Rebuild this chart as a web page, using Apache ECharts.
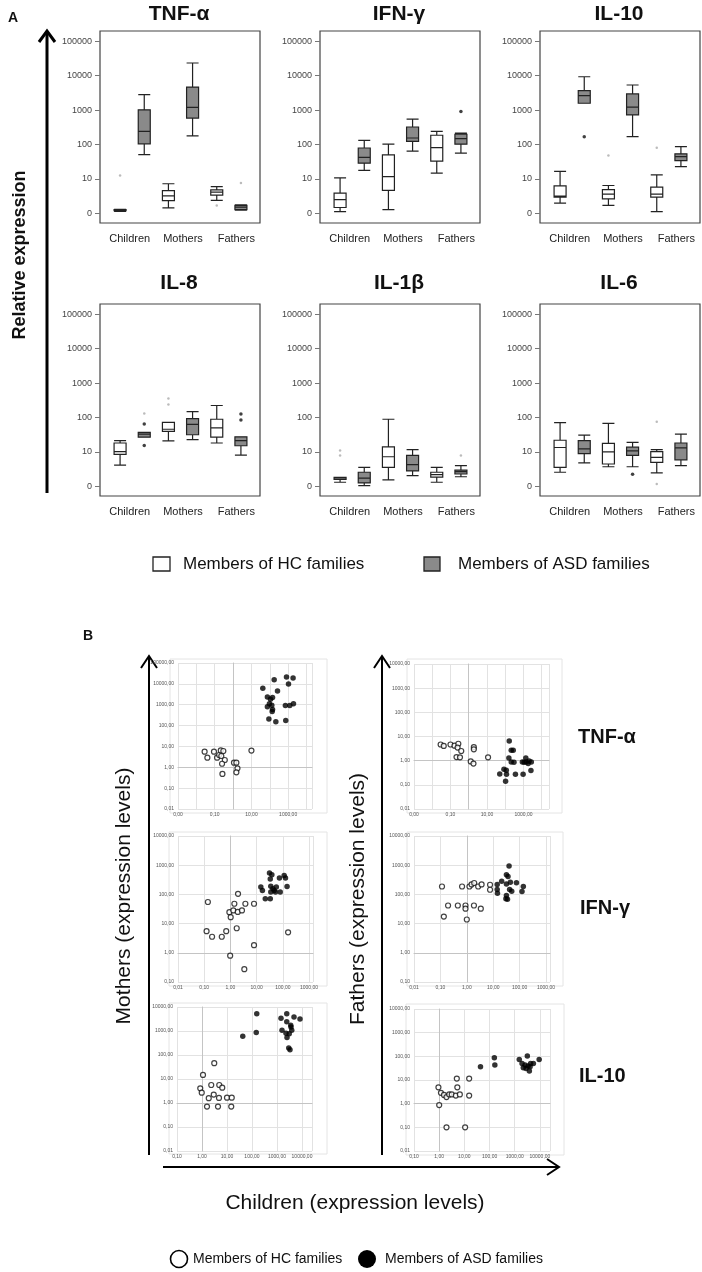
<!DOCTYPE html>
<html lang="en">
<head>
<meta charset="UTF-8">
<title>Cytokine expression in ASD and HC families</title>
<script src="https://cdn.jsdelivr.net/npm/echarts@6/dist/echarts.min.js"></script>
<style>
  html, body { margin: 0; padding: 0; background: #fff; }
  #main { width: 702px; height: 1272px; }
</style>
</head>
<body>
<div id="main"></div>
<script>
// ---- panel A: box plots, values are log10(relative expression) ----
const boxCats = ['Children HC', 'Children ASD', 'Mothers HC', 'Mothers ASD', 'Fathers HC', 'Fathers ASD'];
const groupLabels = ['Children', 'Mothers', 'Fathers'];
const boxTitles = ['TNF-α', 'IFN-γ', 'IL-10', 'IL-8', 'IL-1β', 'IL-6'];
const logTicks = [0, 1, 2, 3, 4, 5];

// [min, Q1, median, Q3, max]
const tnfBox = [[0.06, 0.08, 0.10, 0.11, 0.12], [1.71, 2.02, 2.38, 3.01, 3.45], [0.16, 0.37, 0.51, 0.66, 0.86],
  [2.25, 2.77, 3.08, 3.67, 4.37], [0.38, 0.53, 0.62, 0.68, 0.78], [0.09, 0.11, 0.18, 0.23, 0.25]];
const ifnBox = [[0.05, 0.17, 0.40, 0.59, 1.03], [1.25, 1.46, 1.63, 1.90, 2.12], [0.11, 0.67, 1.07, 1.70, 2.01],
  [1.81, 2.09, 2.19, 2.51, 2.74], [1.17, 1.52, 1.91, 2.27, 2.38], [1.75, 2.01, 2.17, 2.30, 2.33]];
const il10Box = [[0.30, 0.47, 0.50, 0.80, 1.22], [3.20, 3.20, 3.42, 3.57, 3.97], [0.23, 0.42, 0.56, 0.69, 0.81],
  [2.23, 2.86, 3.09, 3.47, 3.73], [0.05, 0.47, 0.56, 0.76, 1.12], [1.36, 1.53, 1.65, 1.73, 1.94]];
const il8Box = [[0.62, 0.93, 1.01, 1.26, 1.33], [1.43, 1.43, 1.52, 1.57, 1.57], [1.32, 1.60, 1.66, 1.86, 1.86],
  [1.36, 1.50, 1.80, 1.97, 2.17], [1.26, 1.43, 1.70, 1.95, 2.35], [0.91, 1.18, 1.33, 1.44, 1.44]];
const il1bBox = [[0.12, 0.20, 0.22, 0.26, 0.26], [0.02, 0.10, 0.24, 0.41, 0.55], [0.19, 0.55, 0.86, 1.15, 1.95],
  [0.31, 0.45, 0.63, 0.90, 1.07], [0.12, 0.27, 0.34, 0.41, 0.55], [0.28, 0.36, 0.43, 0.47, 0.60]];
const il6Box = [[0.41, 0.55, 1.13, 1.34, 1.85], [0.68, 0.95, 1.09, 1.33, 1.49], [0.57, 0.65, 1.00, 1.25, 1.83],
  [0.57, 0.90, 1.03, 1.14, 1.28], [0.39, 0.70, 0.84, 1.01, 1.07], [0.60, 0.77, 1.12, 1.26, 1.52]];

// outliers (grey = mild, black = extreme)
const tnfGrayOut = [['Children HC', 1.10], ['Fathers HC', 0.23], ['Fathers ASD', 0.88]];
const tnfBlackOut = [];
const ifnGrayOut = [];
const ifnBlackOut = [['Fathers ASD', 2.96]];
const il10GrayOut = [['Mothers HC', 1.68], ['Fathers HC', 1.91]];
const il10BlackOut = [['Children ASD', 2.23]];
const il8GrayOut = [['Children ASD', 2.12], ['Mothers HC', 2.55], ['Mothers HC', 2.38]];
const il8BlackOut = [['Children ASD', 1.81], ['Children ASD', 1.19], ['Fathers ASD', 2.10], ['Fathers ASD', 1.93]];
const il1bGrayOut = [['Children HC', 1.04], ['Children HC', 0.90], ['Fathers ASD', 0.90]];
const il1bBlackOut = [];
const il6GrayOut = [['Fathers HC', 1.88], ['Fathers HC', 0.07]];
const il6BlackOut = [['Mothers ASD', 0.35]];

// ---- panel B: scatter, [log10 child level, log10 parent level] ----
const tnfMotherHC = [[-1.55, 0.75], [-1.40, 0.46], [-1.04, 0.75], [-0.87, 0.46], [-0.76, 0.59], [-0.67, 0.81], [-0.53, 0.78],
  [-0.64, 0.54], [-0.45, 0.35], [-0.60, 0.17], [-0.58, -0.32], [0.05, 0.22], [0.18, 0.22], [0.24, -0.05], [0.18, -0.24], [1.00, 0.80]];
const tnfMotherASD = [[2.91, 4.33], [3.27, 4.28], [2.24, 4.20], [3.02, 3.99], [1.62, 3.79], [2.42, 3.66], [1.87, 3.37], [2.15, 3.34],
  [2.04, 3.26], [1.98, 3.05], [1.87, 2.90], [2.11, 2.97], [2.15, 2.77], [2.13, 2.67], [2.85, 2.96], [3.09, 2.96], [3.29, 3.05],
  [1.95, 2.31], [2.33, 2.18], [2.87, 2.24]];
const tnfFatherHC = [[-1.54, 0.67], [-1.37, 0.61], [-1.00, 0.67], [-0.78, 0.62], [-0.57, 0.70], [-0.61, 0.54], [-0.41, 0.40],
  [-0.67, 0.15], [-0.48, 0.14], [0.28, 0.56], [0.28, 0.47], [0.11, -0.03], [0.26, -0.12], [1.06, 0.14]];
const tnfFatherASD = [[2.22, 0.81], [2.33, 0.43], [2.44, 0.43], [2.20, 0.11], [2.33, -0.06], [2.48, -0.07], [1.93, -0.36],
  [2.06, -0.40], [1.70, -0.55], [2.07, -0.56], [2.56, -0.56], [2.02, -0.85], [2.98, -0.56], [2.94, -0.06], [3.13, 0.11],
  [3.15, -0.06], [3.26, -0.12], [3.43, -0.06], [3.41, -0.41], [3.04, -0.07], [3.31, -0.01]];
const ifnMotherHC = [[-0.86, 1.74], [-0.91, 0.74], [-0.70, 0.55], [-0.33, 0.55], [-0.16, 0.74], [-0.04, 1.39], [0.01, 1.22],
  [0.11, 1.45], [0.15, 1.68], [0.29, 2.02], [0.28, 1.40], [0.44, 1.45], [0.57, 1.68], [0.90, 1.68], [0.24, 0.84], [0.90, 0.26],
  [-0.01, -0.10], [0.53, -0.56], [2.20, 0.70]];
const ifnMotherASD = [[1.49, 2.73], [1.58, 2.67], [1.52, 2.53], [1.16, 2.25], [1.22, 2.13], [1.33, 1.85], [1.52, 1.85], [1.54, 2.28],
  [1.62, 2.19], [1.67, 2.13], [1.75, 2.25], [1.72, 2.08], [1.54, 2.08], [1.90, 2.08], [1.87, 2.56], [2.05, 2.65], [2.10, 2.56], [2.16, 2.27]];
const ifnFatherHC = [[-0.94, 2.27], [-0.87, 1.24], [-0.71, 1.62], [-0.34, 1.62], [-0.18, 2.27], [-0.05, 1.62], [-0.05, 1.51],
  [0.00, 1.14], [0.10, 2.27], [0.18, 2.34], [0.28, 2.39], [0.43, 2.27], [0.56, 2.34], [0.27, 1.62], [0.53, 1.51], [0.88, 2.33], [0.88, 2.16]];
const ifnFatherASD = [[1.60, 2.97], [1.50, 2.67], [1.56, 2.61], [1.32, 2.45], [1.15, 2.34], [1.15, 2.17], [1.16, 2.04], [1.50, 2.36],
  [1.65, 2.42], [1.88, 2.40], [2.14, 2.27], [2.09, 2.10], [1.70, 2.11], [1.62, 2.17], [1.50, 1.96], [1.54, 1.83], [1.48, 1.85]];
const il10MotherHC = [[0.04, 1.17], [0.49, 1.66], [-0.07, 0.61], [-0.01, 0.43], [0.37, 0.75], [0.69, 0.75], [0.81, 0.64], [0.47, 0.35],
  [0.27, 0.20], [0.68, 0.21], [1.00, 0.22], [1.19, 0.22], [0.20, -0.15], [0.64, -0.15], [1.17, -0.15]];
const il10MotherASD = [[1.63, 2.78], [2.19, 3.72], [2.17, 2.94], [3.16, 3.53], [3.39, 3.72], [3.39, 3.39], [3.68, 3.58], [3.92, 3.50],
  [3.20, 3.03], [3.36, 2.91], [3.56, 3.17], [3.59, 3.03], [3.49, 2.89], [3.40, 2.73], [3.47, 2.29], [3.52, 2.22], [3.55, 3.24]];
const il10FatherHC = [[-0.03, 0.69], [0.07, 0.46], [0.19, 0.37], [0.29, 0.28], [0.40, 0.39], [0.50, 0.39], [0.66, 0.34], [0.82, 0.39],
  [0.72, 0.69], [0.70, 1.06], [1.19, 1.06], [1.19, 0.34], [0.00, -0.06], [0.29, -1.00], [1.03, -1.00]];
const il10FatherASD = [[1.64, 1.56], [2.19, 1.94], [2.21, 1.63], [3.18, 1.87], [3.50, 2.01], [3.97, 1.87], [3.29, 1.70], [3.41, 1.63],
  [3.53, 1.59], [3.63, 1.70], [3.74, 1.70], [3.45, 1.49], [3.58, 1.38], [3.34, 1.52], [3.61, 1.56]];

const FONT = 'Liberation Sans, Arial, sans-serif';
const GRAY_BOX = '#8a8a8a';

const boxSets = [
  [tnfBox, tnfGrayOut, tnfBlackOut], [ifnBox, ifnGrayOut, ifnBlackOut], [il10Box, il10GrayOut, il10BlackOut],
  [il8Box, il8GrayOut, il8BlackOut], [il1bBox, il1bGrayOut, il1bBlackOut], [il6Box, il6GrayOut, il6BlackOut]
];
const colLeft = [100, 320, 540];
const rowTop = [31, 304];
const titleY = [14, 283];

const scatterSets = [
  [tnfMotherHC, tnfMotherASD], [tnfFatherHC, tnfFatherASD],
  [ifnMotherHC, ifnMotherASD], [ifnFatherHC, ifnFatherASD],
  [il10MotherHC, il10MotherASD], [il10FatherHC, il10FatherASD]
];
// frame [l,t,w,h], plot area [l,t,w,h], axis extents, x labels shown
const bLayout = [
  { frame: [170, 659, 157, 154], plot: [178, 663, 134, 146], x: [-3, 4.3], y: [-2, 5], xl: [-3, -1, 1, 3] },
  { frame: [407, 659, 155, 154], plot: [414, 664, 135, 145], x: [-3, 4.4], y: [-2, 4], xl: [-3, -1, 1, 3] },
  { frame: [169, 832, 158, 154], plot: [178, 836, 135, 146], x: [-2, 3.15], y: [-1, 4], xl: [-2, -1, 0, 1, 2, 3] },
  { frame: [407, 832, 156, 154], plot: [414, 836, 136, 146], x: [-2, 3.15], y: [-1, 4], xl: [-2, -1, 0, 1, 2, 3] },
  { frame: [169, 1003, 158, 151], plot: [177, 1007, 135, 144], x: [-1, 4.4], y: [-2, 4], xl: [-1, 0, 1, 2, 3, 4] },
  { frame: [406, 1004, 158, 151], plot: [414, 1009, 136, 142], x: [-1, 4.4], y: [-2, 4], xl: [-1, 0, 1, 2, 3, 4] }
];

function intRange(a, b) { const r = []; for (let v = a; v <= b; v++) r.push(v); return r; }
function fmtA(v) { return v === 0 ? '0' : String(Math.round(Math.pow(10, v))); }
function fmtB(v) { return Math.pow(10, v).toFixed(2).replace('.', ','); }

const grid = [], xAxis = [], yAxis = [], series = [], graphic = [];

// panel A
boxSets.forEach((set, k) => {
  const L = colLeft[k % 3], T = rowTop[Math.floor(k / 3)];
  const gi = grid.length;
  // frame + group labels
  grid.push({ left: L, top: T, width: 160, height: 192, show: true, borderColor: '#444', borderWidth: 1.2,
    backgroundColor: 'transparent', outerBoundsMode: 'none' });
  xAxis.push({ gridIndex: gi, type: 'category', data: groupLabels, axisLine: { show: false }, axisTick: { show: false },
    axisLabel: { interval: 0, fontSize: 11, color: '#222', fontFamily: FONT, margin: 10, padding: [0, 0, 0, 6] } });
  yAxis.push({ gridIndex: gi, type: 'value', show: false });
  // data
  const di = grid.length;
  grid.push({ left: L + 8, top: T, width: 145, height: 192, outerBoundsMode: 'none' });
  xAxis.push({ gridIndex: di, type: 'category', data: boxCats, show: false });
  yAxis.push({ gridIndex: di, type: 'value', min: -0.28, max: 5.3, offset: 8,
    axisLine: { show: false }, splitLine: { show: false },
    axisTick: { show: true, length: 5, customValues: logTicks, lineStyle: { color: '#777' } },
    axisLabel: { customValues: logTicks, formatter: fmtA, fontSize: 9, color: '#444', fontFamily: FONT, margin: 8 } });
  series.push({ type: 'boxplot', xAxisIndex: di, yAxisIndex: di, boxWidth: [12, 12],
    itemStyle: { borderColor: '#222', borderWidth: 1.2 }, emphasis: { disabled: true },
    data: set[0].map((v, i) => ({ value: v, itemStyle: { color: i % 2 ? GRAY_BOX : '#fff' } })) });
  series.push({ type: 'scatter', xAxisIndex: di, yAxisIndex: di, data: set[1], symbolSize: 2.5,
    itemStyle: { color: '#aaa' }, silent: true });
  series.push({ type: 'scatter', xAxisIndex: di, yAxisIndex: di, data: set[2], symbolSize: 3.5,
    itemStyle: { color: '#111' }, silent: true });
  graphic.push({ type: 'text', x: L + 79, y: titleY[Math.floor(k / 3)],
    style: { text: boxTitles[k], fontSize: 21, fontWeight: 'bold', fontFamily: FONT, fill: '#111', align: 'center', verticalAlign: 'middle' } });
});

// panel B
scatterSets.forEach((set, j) => {
  const lay = bLayout[j];
  const fi = grid.length;
  grid.push({ left: lay.frame[0], top: lay.frame[1], width: lay.frame[2], height: lay.frame[3], show: true,
    borderColor: '#e4e4e4', borderWidth: 1, backgroundColor: 'transparent', outerBoundsMode: 'none' });
  xAxis.push({ gridIndex: fi, type: 'value', show: false });
  yAxis.push({ gridIndex: fi, type: 'value', show: false });
  const pi = grid.length;
  grid.push({ left: lay.plot[0], top: lay.plot[1], width: lay.plot[2], height: lay.plot[3], outerBoundsMode: 'none' });
  xAxis.push({ gridIndex: pi, type: 'value', min: lay.x[0], max: lay.x[1], interval: 1,
    axisLine: { onZero: true, lineStyle: { color: '#c4c4c4', width: 1 } }, axisTick: { show: false },
    splitLine: { show: true, lineStyle: { color: '#e2e2e2', width: 1 } },
    axisLabel: { customValues: lay.xl, formatter: fmtB, fontSize: 5, color: '#555', fontFamily: FONT, margin: 3 } });
  yAxis.push({ gridIndex: pi, type: 'value', min: lay.y[0], max: lay.y[1], interval: 1,
    axisLine: { onZero: true, lineStyle: { color: '#c4c4c4', width: 1 } }, axisTick: { show: false },
    splitLine: { show: true, lineStyle: { color: '#e2e2e2', width: 1 } },
    axisLabel: { customValues: intRange(lay.y[0], lay.y[1]), formatter: fmtB, fontSize: 5, color: '#555', fontFamily: FONT, margin: 4 } });
  series.push({ type: 'scatter', xAxisIndex: pi, yAxisIndex: pi, data: set[0], symbolSize: 5,
    itemStyle: { color: '#fff', borderColor: '#111', borderWidth: 1.2 }, silent: true });
  series.push({ type: 'scatter', xAxisIndex: pi, yAxisIndex: pi, data: set[1], symbolSize: 5.5,
    itemStyle: { color: '#000' }, silent: true });
});

// decorations, labels, legends
function txt(x, y, text, size, weight, rot, align) {
  return { type: 'text', x: x, y: y, rotation: rot || 0,
    style: { text: text, fontSize: size, fontWeight: weight || 'normal', fontFamily: FONT, fill: '#111',
      align: align || 'center', verticalAlign: 'middle' } };
}
function ln(x1, y1, x2, y2, w) {
  return { type: 'line', shape: { x1: x1, y1: y1, x2: x2, y2: y2 }, style: { stroke: '#000', lineWidth: w } };
}
function chevron(pts, w) {
  return { type: 'polyline', shape: { points: pts }, style: { stroke: '#000', lineWidth: w, fill: null } };
}
graphic.push(
  txt(13, 18, 'A', 14, 'bold'),
  ln(47, 493, 47, 31, 3),
  chevron([[39, 42], [47, 31], [55, 42]], 3),
  txt(20, 255, 'Relative expression', 18, 'bold', Math.PI / 2),
  { type: 'rect', shape: { x: 153, y: 557, width: 17, height: 14 }, style: { fill: '#fff', stroke: '#222', lineWidth: 1.3 } },
  txt(183, 564, 'Members of HC families', 17, 'normal', 0, 'left'),
  { type: 'rect', shape: { x: 424, y: 557, width: 16, height: 14 }, style: { fill: GRAY_BOX, stroke: '#222', lineWidth: 1.3 } },
  txt(458, 564, 'Members of ASD families', 17, 'normal', 0, 'left'),
  txt(88, 636, 'B', 14, 'bold'),
  ln(149, 1155, 149, 656, 2),
  chevron([[141, 668], [149, 656], [157, 668]], 2),
  ln(382, 1155, 382, 656, 2),
  chevron([[374, 668], [382, 656], [390, 668]], 2),
  ln(163, 1167, 559, 1167, 2),
  chevron([[547, 1159], [559, 1167], [547, 1175]], 2),
  txt(124, 896, 'Mothers (expression levels)', 21, 'normal', Math.PI / 2),
  txt(358, 899, 'Fathers (expression levels)', 21, 'normal', Math.PI / 2),
  txt(355, 1203, 'Children (expression levels)', 21),
  txt(578, 737, 'TNF-α', 20, 'bold', 0, 'left'),
  txt(580, 908, 'IFN-γ', 20, 'bold', 0, 'left'),
  txt(579, 1076, 'IL-10', 20, 'bold', 0, 'left'),
  { type: 'circle', shape: { cx: 179, cy: 1259, r: 8.5 }, style: { fill: '#fff', stroke: '#000', lineWidth: 1.6 } },
  txt(193, 1259, 'Members of HC families', 14, 'normal', 0, 'left'),
  { type: 'circle', shape: { cx: 367, cy: 1259, r: 9 }, style: { fill: '#000' } },
  txt(385, 1259, 'Members of ASD families', 14, 'normal', 0, 'left')
);

const chart = echarts.init(document.getElementById('main'));
chart.setOption({
  animation: false,
  backgroundColor: '#fff',
  grid: grid,
  xAxis: xAxis,
  yAxis: yAxis,
  series: series,
  graphic: graphic
});
</script>
</body>
</html>
